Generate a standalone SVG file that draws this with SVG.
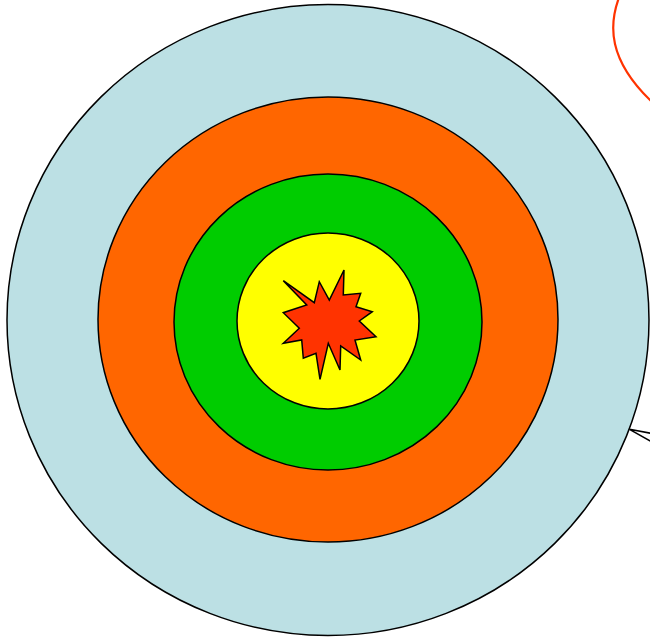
<svg xmlns="http://www.w3.org/2000/svg" width="650" height="638" viewBox="0 0 650 638">
<style>
.ring{stroke:#000;stroke-width:1.5}
.con{fill:none}
</style>
<rect width="650" height="638" fill="#fff"/>
<g id="target">
<ellipse class="ring" cx="328" cy="320" rx="321" ry="315.5" fill="#BCE0E4"/>
<ellipse class="ring" cx="328" cy="319.5" rx="230" ry="222.5" fill="#FF6600"/>
<ellipse class="ring" cx="328" cy="322" rx="154" ry="148" fill="#00CC00"/>
<ellipse class="ring" cx="328" cy="321" rx="91" ry="88" fill="#FFFF00"/>
<polygon class="ring" fill="#FF3300" points="283.3,280.7 314.3,302.7 319.3,281.7 329.3,300 344,270 343.3,295 360.7,293.3 356,306.7 372.3,311.7 359.3,321 376,336.7 355,340 360.7,360 340.7,346 340,370 328.3,343.3 320,379.3 316,353.3 303.3,358.3 301.7,340 283.3,343.3 299.3,328.3 283.3,312.7 306.7,305"/>
</g>
<g id="connectors" class="con">
<path d="M620,-5 C608,25 608,60 652,102" stroke="#FF3300" stroke-width="2.2"/>
<path d="M652,433.5 L629.5,429.3 L652,442" stroke="#000" stroke-width="1.5"/>
</g>
</svg>
